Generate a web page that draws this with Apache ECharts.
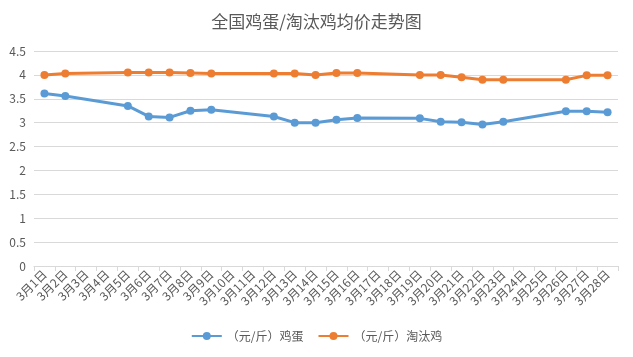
<!DOCTYPE html>
<html><head><meta charset="utf-8">
<script src="https://cdn.jsdelivr.net/npm/echarts@6/dist/echarts.min.js"></script>
<style>html,body{margin:0;padding:0;background:#fff}#c{width:633px;height:357px}</style>
</head><body><div id="c"></div>
<script>
const categories = ['3月1日','3月2日','3月3日','3月4日','3月5日','3月6日','3月7日','3月8日','3月9日','3月10日','3月11日','3月12日','3月13日','3月14日','3月15日','3月16日','3月17日','3月18日','3月19日','3月20日','3月21日','3月22日','3月23日','3月24日','3月25日','3月26日','3月27日','3月28日'];
const eggPrice = [3.61,3.56,null,null,3.35,3.13,3.11,3.25,3.27,null,null,3.13,3.00,3.00,3.06,3.10,null,null,3.09,3.02,3.01,2.96,3.02,null,null,3.24,3.24,3.22];
const henPrice = [4.00,4.03,null,null,4.05,4.05,4.05,4.04,4.03,null,null,4.03,4.03,4.00,4.04,4.04,null,null,4.00,4.00,3.95,3.90,3.90,null,null,3.90,3.99,3.99];
const seriesNames = ['（元/斤）鸡蛋','（元/斤）淘汰鸡'];
const chart = echarts.init(document.getElementById('c'));
const font = '"Microsoft YaHei","Noto Sans CJK SC",sans-serif';
chart.setOption({
  animation:false,
  title:{text:'全国鸡蛋/淘汰鸡均价走势图',left:'center',top:8,textStyle:{fontSize:17,fontWeight:'normal',color:'#595959',fontFamily:'"Noto Sans CJK SC",serif'}},
  grid:{left:34,right:15,top:51,bottom:91},
  legend:{bottom:10,itemWidth:30,itemHeight:10,itemGap:14,textStyle:{fontSize:12,color:'#595959',fontFamily:font},data:seriesNames},
  xAxis:{type:'category',data:categories,boundaryGap:true,
    axisLine:{lineStyle:{color:'#d9d9d9'}},
    axisTick:{show:true,length:5,lineStyle:{color:'#d9d9d9'}},
    axisLabel:{interval:0,rotate:45,fontSize:12,color:'#595959',fontFamily:font,margin:6}},
  yAxis:{type:'value',min:0,max:4.5,interval:0.5,
    axisLine:{show:false},axisTick:{show:false},
    splitLine:{lineStyle:{color:'#d9d9d9'}},
    axisLabel:{fontSize:12,color:'#595959',fontFamily:font,margin:8}},
  series:[
    {name:seriesNames[0],type:'line',data:eggPrice,connectNulls:true,symbol:'circle',symbolSize:8,
     itemStyle:{color:'#5B9BD5'},lineStyle:{width:3,color:'#5B9BD5'}},
    {name:seriesNames[1],type:'line',data:henPrice,connectNulls:true,symbol:'circle',symbolSize:8,
     itemStyle:{color:'#ED7D31'},lineStyle:{width:3,color:'#ED7D31'}}
  ]
});
</script></body></html>
